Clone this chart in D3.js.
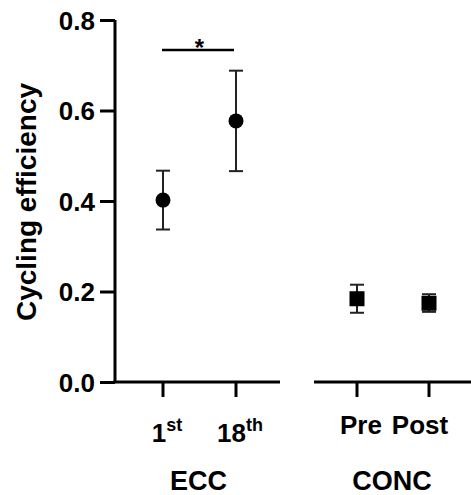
<!DOCTYPE html>
<html>
<head>
<meta charset="utf-8">
<script src="https://cdn.jsdelivr.net/npm/d3@7"></script>
<style>
  body { margin: 0; background: #fff; }
  text { font-family: "Liberation Sans", Arial, sans-serif; font-weight: bold; fill: #000; }
</style>
</head>
<body>
<svg id="chart" width="471" height="495"></svg>
<script>
// data
var groups = ['ECC', 'CONC'];
var eccLabels = [['1', 'st'], ['18', 'th']];
var concLabels = ['Pre', 'Post'];
var eccMean = [0.402, 0.577];
var eccLow = [0.337, 0.466];
var eccHigh = [0.467, 0.688];
var concMean = [0.184, 0.174];
var concLow = [0.153, 0.155];
var concHigh = [0.215, 0.194];
var yTicks = [0, 0.2, 0.4, 0.6, 0.8];

var svg = d3.select('#chart');

var y = d3.scaleLinear().domain([0, 0.8]).range([382, 20]);
var xEcc = d3.scalePoint().domain([0, 1]).range([163, 236]);
var xConc = d3.scalePoint().domain([0, 1]).range([357, 429]);

// y axis
var yAxis = d3.axisLeft(y).tickValues(yTicks).tickFormat(d3.format('.1f')).tickSize(15).tickPadding(5);
var gy = svg.append('g').attr('transform', 'translate(115,0)').call(yAxis);
gy.select('.domain').attr('d', 'M0,' + y(0.8) + 'V' + y(0)).attr('stroke-width', 3).attr('stroke', '#000');
gy.selectAll('.tick line').attr('stroke-width', 3).attr('stroke', '#000');
gy.selectAll('.tick text').style('font-size', '26px').attr('dy', '0.36em');

svg.append('text')
  .attr('transform', 'translate(36,' + (y(0.4) + 1) + ') rotate(-90)')
  .attr('text-anchor', 'middle')
  .style('font-size', '28px')
  .text('Cycling efficiency');

// x axes (two segments)
function xSeg(x0, x1, scale, n) {
  var g = svg.append('g');
  g.append('line').attr('x1', x0).attr('x2', x1).attr('y1', y(0)).attr('y2', y(0))
    .attr('stroke', '#000').attr('stroke-width', 3);
  g.selectAll('.tk').data(d3.range(n)).join('line')
    .attr('x1', function(d) { return scale(d); }).attr('x2', function(d) { return scale(d); })
    .attr('y1', y(0)).attr('y2', y(0) + 15)
    .attr('stroke', '#000').attr('stroke-width', 3);
  return g;
}
xSeg(113.5, 280, xEcc, eccLabels.length);
xSeg(314, 471, xConc, concLabels.length);

eccLabels.forEach(function(l, i) {
  var t = svg.append('text').attr('x', xEcc(i) + 4).attr('y', 442)
    .attr('text-anchor', 'middle').style('font-size', '26px');
  t.append('tspan').text(l[0]);
  t.append('tspan').attr('dy', '-11').style('font-size', '18px').text(l[1]);
});
var concShift = [4, -9];
concLabels.forEach(function(l, i) {
  svg.append('text').attr('x', xConc(i) + concShift[i]).attr('y', 434)
    .attr('text-anchor', 'middle').style('font-size', '26px').text(l);
});

svg.append('text').attr('x', (xEcc(0) + xEcc(1)) / 2 - 1).attr('y', 490)
  .attr('text-anchor', 'middle').style('font-size', '27px').text(groups[0]);
svg.append('text').attr('x', (xConc(0) + xConc(1)) / 2 - 1).attr('y', 490)
  .attr('text-anchor', 'middle').style('font-size', '27px').text(groups[1]);

// error bars
function errBars(scale, mean, lo, hi) {
  var g = svg.append('g').attr('stroke', '#222').attr('stroke-width', 2);
  mean.forEach(function(m, i) {
    var cx = scale(i);
    g.append('line').attr('x1', cx).attr('x2', cx).attr('y1', y(lo[i])).attr('y2', y(hi[i]));
    g.append('line').attr('x1', cx - 7).attr('x2', cx + 7).attr('y1', y(lo[i])).attr('y2', y(lo[i]));
    g.append('line').attr('x1', cx - 7).attr('x2', cx + 7).attr('y1', y(hi[i])).attr('y2', y(hi[i]));
  });
}
errBars(xEcc, eccMean, eccLow, eccHigh);
errBars(xConc, concMean, concLow, concHigh);

svg.selectAll('circle.ecc').data(eccMean).join('circle')
  .attr('class', 'ecc')
  .attr('cx', function(d, i) { return xEcc(i); })
  .attr('cy', function(d) { return y(d); })
  .attr('r', 7.5).attr('fill', '#000');

svg.selectAll('rect.conc').data(concMean).join('rect')
  .attr('class', 'conc')
  .attr('x', function(d, i) { return xConc(i) - 7.5; })
  .attr('y', function(d) { return y(d) - 7.5; })
  .attr('width', 15).attr('height', 15).attr('fill', '#000');

// significance bar
svg.append('line').attr('x1', xEcc(0) - 1).attr('x2', xEcc(1) - 2).attr('y1', 50).attr('y2', 50)
  .attr('stroke', '#000').attr('stroke-width', 2.5);
svg.append('text').attr('x', (xEcc(0) + xEcc(1)) / 2).attr('y', 56)
  .attr('text-anchor', 'middle').style('font-size', '24px').text('*');
</script>
</body>
</html>
